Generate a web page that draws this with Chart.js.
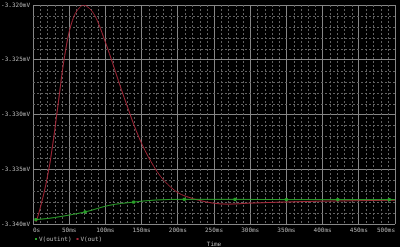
<!DOCTYPE html>
<html lang="en">
<head>
<meta charset="UTF-8">
<title>V(outint) / V(out)</title>
<script src="https://cdn.jsdelivr.net/npm/chart.js@4.4.0/dist/chart.umd.min.js"></script>
<style>
  html, body { margin: 0; padding: 0; background: #000; }
  #wrap { width: 400px; height: 247px; position: relative; }
</style>
</head>
<body>
<div id="wrap"><canvas id="simChart"></canvas></div>
<script>
// transient result, time in ms, voltage in mV
const outTime  = [4.1, 6.8, 9.6, 12.3, 15.1, 17.8, 20.5, 23.3, 26.0, 28.8, 31.5, 34.2, 37.0, 39.7, 42.5, 45.2, 47.9, 50.7, 53.4, 57.5, 61.6, 65.8, 69.9, 74.0, 82.2, 89.0, 97.3, 105.5, 113.7, 121.9, 130.1, 138.4, 146.6, 154.8, 163.0, 171.2, 180.8, 190.4, 201.4, 215.1, 228.8, 249.3, 269.9, 297.3, 338.4, 393.2, 500];
const outValue = [-3.33982, -3.33928, -3.33864, -3.33792, -3.33719, -3.33638, -3.33548, -3.33448, -3.33330, -3.33204, -3.33068, -3.32932, -3.32787, -3.32643, -3.32516, -3.32407, -3.32308, -3.32226, -3.32163, -3.32090, -3.32045, -3.32014, -3.32000, -3.32011, -3.32063, -3.32145, -3.32290, -3.32443, -3.32606, -3.32769, -3.32923, -3.33077, -3.33213, -3.33330, -3.33430, -3.33520, -3.33602, -3.33665, -3.33719, -3.33756, -3.33783, -3.33810, -3.33819, -3.33810, -3.33801, -3.33792, -3.33783];

const outintTime  = [4, 20, 40, 72, 105, 139, 171, 209, 279, 350, 421, 492, 500];
const outintValue = [-3.3396, -3.3395, -3.3393, -3.3389, -3.3383, -3.3380, -3.3378, -3.33775, -3.33775, -3.33777, -3.33777, -3.33777, -3.33777];
const outintMarkers = [4, 72, 139, 209, 279, 350, 421, 492];

const xTickLabels = ['0s', '50ms', '100ms', '150ms', '200ms', '250ms', '300ms', '350ms', '400ms', '450ms', '500ms'];
const yTickLabels = ['-3.340mV', '-3.335mV', '-3.330mV', '-3.325mV', '-3.320mV'];

const seriesNames = ['V(outint)', 'V(out)'];
const greenColor = '#2aa02a';
const redColor = '#a8283a';
const textColor = '#b4b4b4';
const monoFont = 'DejaVu Sans Mono';

// dashed minor grid (every 5th tick is a major line drawn by chart.js)
const minorGrid = {
    id: 'minorGrid',
    beforeDatasetsDraw(chart) {
        const { ctx, chartArea: a, scales } = chart;
        ctx.save();
        ctx.strokeStyle = '#626262';
        ctx.lineWidth = 1;
        ctx.setLineDash([2, 2]);
        scales.x.ticks.forEach((t, i) => {
            if (i % 5 === 0) return;
            const px = Math.round(scales.x.getPixelForValue(t.value)) + 0.5;
            ctx.beginPath(); ctx.moveTo(px, a.top); ctx.lineTo(px, a.bottom); ctx.stroke();
        });
        scales.y.ticks.forEach((t, i) => {
            if (i % 5 === 0) return;
            const py = Math.round(scales.y.getPixelForValue(t.value)) + 0.5;
            ctx.beginPath(); ctx.moveTo(a.left, py); ctx.lineTo(a.right, py); ctx.stroke();
        });
        ctx.restore();
    }
};

// legend bottom-left and the "Time" axis caption
const bottomText = {
    id: 'bottomText',
    afterDraw(chart) {
        const { ctx, chartArea: a } = chart;
        ctx.save();
        ctx.font = '6px "' + monoFont + '"';
        ctx.textBaseline = 'middle';
        ctx.textAlign = 'left';
        let x = 35;
        const y = 239;
        chart.data.datasets.forEach(ds => {
            ctx.fillStyle = ds.borderColor;
            ctx.fillRect(x, y - 1, 2, 2);
            x += 4;
            ctx.fillStyle = textColor;
            ctx.fillText(ds.label, x, y);
            x += ctx.measureText(ds.label).width + 5;
        });
        ctx.textAlign = 'center';
        ctx.fillText('Time', (a.left + a.right) / 2, 244);
        ctx.restore();
    }
};

const ctx = document.getElementById('simChart').getContext('2d');
new Chart(ctx, {
    type: 'line',
    data: {
        datasets: [{
            label: seriesNames[0],
            data: outintTime.map((t, i) => ({ x: t, y: outintValue[i] })),
            borderColor: greenColor,
            backgroundColor: greenColor,
            borderWidth: 1,
            pointStyle: 'rect',
            pointRadius: outintTime.map(t => outintMarkers.includes(t) ? 1.5 : 0),
            cubicInterpolationMode: 'monotone'
        }, {
            label: seriesNames[1],
            data: outTime.map((t, i) => ({ x: t, y: outValue[i] })),
            borderColor: redColor,
            backgroundColor: redColor,
            borderWidth: 1,
            pointRadius: 0,
            cubicInterpolationMode: 'monotone'
        }]
    },
    options: {
        responsive: true,
        maintainAspectRatio: false,
        animation: false,
        layout: { padding: { top: 3, right: 2, left: 0, bottom: 0 } },
        plugins: { legend: { display: false }, tooltip: { enabled: false } },
        scales: {
            x: {
                type: 'linear',
                min: 0,
                max: 500,
                afterFit(scale) { scale.height = 23; scale.paddingLeft = 0; scale.paddingRight = 0; },
                grid: {
                    color: c => c.index % 5 === 0 ? '#868686' : 'rgba(0,0,0,0)',
                    tickLength: 0
                },
                border: { display: false },
                ticks: {
                    stepSize: 10,
                    autoSkip: false,
                    maxRotation: 0,
                    align: 'inner',
                    padding: 3,
                    color: textColor,
                    font: { family: monoFont, size: 6 },
                    callback: (v, i) => i % 5 === 0 ? xTickLabels[i / 5] : ''
                }
            },
            y: {
                min: -3.340,
                max: -3.320,
                afterFit(scale) { scale.width = 33; scale.paddingTop = 0; scale.paddingBottom = 0; },
                grid: {
                    color: c => c.index % 5 === 0 ? '#868686' : 'rgba(0,0,0,0)',
                    tickLength: 0
                },
                border: { display: false },
                ticks: {
                    stepSize: 0.001,
                    autoSkip: false,
                    padding: 3,
                    color: textColor,
                    font: { family: monoFont, size: 6 },
                    callback: (v, i) => i % 5 === 0 ? yTickLabels[i / 5] : ''
                }
            }
        }
    },
    plugins: [minorGrid, bottomText]
});
</script>
</body>
</html>
